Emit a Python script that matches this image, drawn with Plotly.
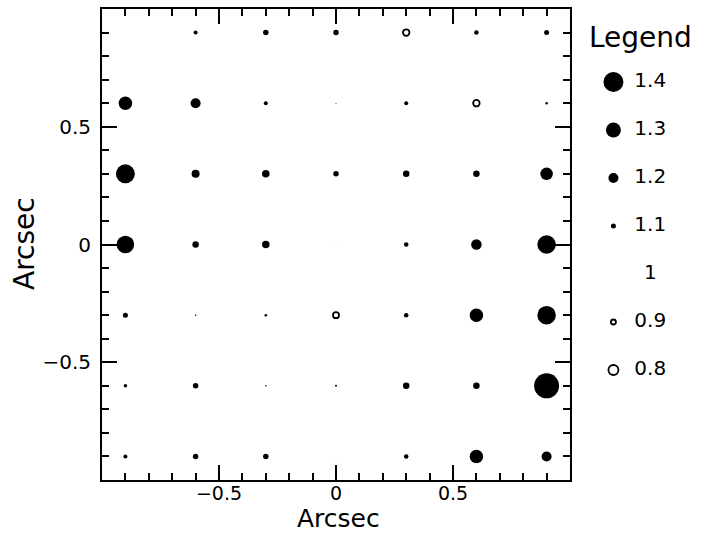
import plotly.graph_objects as go

# ---- data ----
x_pos = [-0.9, -0.6, -0.3, 0.0, 0.3, 0.6, 0.9]
y_pos = [0.9, 0.6, 0.3, 0.0, -0.3, -0.6, -0.9]
ratio = [
    [1.00, 1.08, 1.11, 1.11, 0.87, 1.09, 1.10],
    [1.27, 1.20, 1.08, 1.02, 1.08, 0.87, 1.05],
    [1.38, 1.16, 1.15, 1.11, 1.13, 1.13, 1.25],
    [1.35, 1.13, 1.15, 1.01, 1.09, 1.21, 1.37],
    [1.10, 1.03, 1.05, 0.88, 1.09, 1.27, 1.37],
    [1.07, 1.11, 1.03, 1.04, 1.13, 1.13, 1.50],
    [1.08, 1.11, 1.11, 1.01, 1.09, 1.27, 1.20],
]
legend_values = [1.4, 1.3, 1.2, 1.1, 1.0, 0.9, 0.8]
legend_labels = ["1.4", "1.3", "1.2", "1.1", "1", "0.9", "0.8"]
tick_vals = [-0.5, 0, 0.5]
tick_text = ["\u22120.5", "0", "0.5"]

SCALE = 50  # px per unit deviation from 1
FONT = "DejaVu Sans"

fig = go.Figure()

def add_points(xs, ys, vals, xaxis="x", yaxis="y"):
    fx, fy, fs, ox, oy, osz = [], [], [], [], [], []
    for x, y, v in zip(xs, ys, vals):
        d = abs(v - 1.0) * SCALE
        if v >= 1.0:
            fx.append(x); fy.append(y); fs.append(d)
        else:
            ox.append(x); oy.append(y); osz.append(d)
    fig.add_trace(go.Scatter(x=fx, y=fy, mode="markers", xaxis=xaxis, yaxis=yaxis,
                             marker=dict(symbol="circle", size=fs, color="#000000",
                                         opacity=1, line=dict(width=0)),
                             showlegend=False, hoverinfo="skip", cliponaxis=False))
    fig.add_trace(go.Scatter(x=ox, y=oy, mode="markers", xaxis=xaxis, yaxis=yaxis,
                             marker=dict(symbol="circle-open", size=osz, color="#000000",
                                         opacity=1, line=dict(width=1.8, color="#000000")),
                             showlegend=False, hoverinfo="skip", cliponaxis=False))

xs, ys, vs = [], [], []
for j, y in enumerate(y_pos):
    for i, x in enumerate(x_pos):
        xs.append(x); ys.append(y); vs.append(ratio[j][i])
add_points(xs, ys, vs)

W, H = 713, 534
L, R, T, B = 102, 0, 9, 54
pw = W - L - R
ph = H - T - B
plot_w = 468

# legend panel (own hidden axes, in pixel-like units)
leg_idx = list(range(len(legend_values)))
LEG_MARK_X = 613
LEG_TEXT_X = 650
add_points([LEG_MARK_X] * len(leg_idx), leg_idx, legend_values, "x2", "y2")
fig.add_trace(go.Scatter(x=[LEG_TEXT_X] * len(leg_idx), y=leg_idx, mode="text",
                         text=legend_labels, textposition="middle center",
                         textfont=dict(family=FONT, size=20, color="black"),
                         xaxis="x2", yaxis="y2", showlegend=False, hoverinfo="skip",
                         cliponaxis=False))
fig.add_annotation(text="Legend", x=640, y=-0.93, xref="x2", yref="y2",
                   showarrow=False, font=dict(family=FONT, size=28, color="black"))

# axis titles
fig.add_annotation(text="Arcsec", x=(338 - L) / pw, y=(480 - 535) / ph,
                   xref="paper", yref="paper", showarrow=False,
                   xanchor="center", yanchor="bottom",
                   font=dict(family=FONT, size=25, color="black"))
fig.add_annotation(text="Arcsec", x=(24 - L) / pw, y=(480 - 244) / ph,
                   xref="paper", yref="paper", showarrow=False, textangle=-90,
                   xanchor="center", yanchor="middle",
                   font=dict(family=FONT, size=28, color="black"))

axis_common = dict(
    range=[-1, 1], tickvals=tick_vals, ticktext=tick_text,
    ticks="inside", ticklen=15, tickwidth=2, tickcolor="black",
    showline=True, linewidth=2, linecolor="black", mirror="allticks",
    minor=dict(dtick=0.1, tick0=0, ticks="inside", ticklen=7, tickwidth=2,
               tickcolor="black", showgrid=False),
    showgrid=False, zeroline=False, automargin=False,
    tickfont=dict(family=FONT, size=20, color="black"),
)

fig.update_layout(
    width=W, height=H,
    margin=dict(l=L, r=R, t=T, b=B, autoexpand=False),
    paper_bgcolor="white", plot_bgcolor="white",
    xaxis=dict(axis_common, domain=[0, plot_w / pw], ticklabelstandoff=-5,
               tickfont=dict(family=FONT, size=19, color="black")),
    yaxis=dict(axis_common, domain=[0, 1], ticklabelstandoff=5),
    xaxis2=dict(domain=[plot_w / pw + 0.001, 1], range=[L + plot_w, W],
                visible=False, anchor="y2"),
    yaxis2=dict(domain=[0, 1], range=[(480 - 82) / 48, (9 - 82) / 48],
                visible=False, anchor="x2"),
    showlegend=False,
)

fig.write_html("out.html", config={"displayModeBar": False},
               post_script="document.body.style.margin='0';document.body.style.overflow='hidden';")
